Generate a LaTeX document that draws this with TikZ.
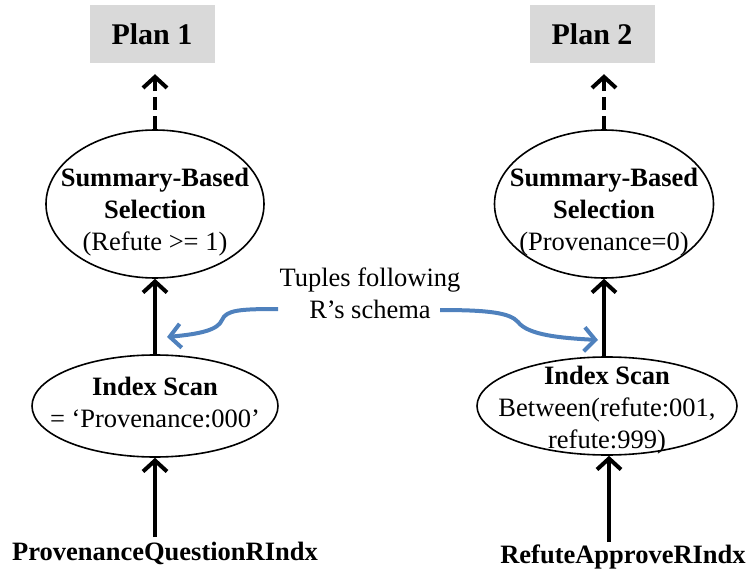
\documentclass[tikz,border=0pt]{standalone}
\usepackage{fontspec}
\setmainfont{Liberation Serif}
\usetikzlibrary{arrows.meta,shapes.geometric}
\definecolor{plangray}{HTML}{D9D9D9}
\definecolor{flowblue}{HTML}{4F81BD}
\begin{document}
\begin{tikzpicture}[x=1pt,y=-1pt,
  plan/.style={fill=plangray,minimum width=125pt,minimum height=58pt,inner sep=0pt,
    font=\fontsize{30}{34}\selectfont\bfseries},
  op/.style={draw,ellipse,line width=1.6pt,inner sep=0pt},
  optext/.style={align=center,inner sep=0pt,font=\fontsize{26.5}{32}\selectfont},
  leaf/.style={inner sep=0pt,font=\fontsize{26.5}{32}\selectfont\bfseries},
  flow/.style={line width=4pt,-{Straight Barb[length=11pt,width=24pt,line width=4pt]}},
  result/.style={flow,dash pattern=on 13pt off 6pt,shorten >=11pt},
  note/.style={flowblue,line width=4pt,-{Straight Barb[length=11pt,width=24pt,line width=4pt]}}]
\useasboundingbox (0,0) rectangle (750,575);

% plan headers
\node[plan] (p1) at (152,34) {Plan 1};
\node[plan] (p2) at (592,34) {Plan 2};

% plan 1 operators
\node[op,minimum width=218pt,minimum height=148pt] (s1) at (155,204) {};
\node[optext] (s1t) at (155,212) {\textbf{Summary-Based}\\\textbf{Selection}\\(Refute >= 1)};
\node[op,minimum width=246pt,minimum height=102pt] (i1) at (155,406) {};
\node[optext] (i1t) at (155,402) {\textbf{Index Scan}\\= ‘Provenance:000’};
\coordinate (b1) at (155,537);
\node[leaf] (l1) at (165,553) {ProvenanceQuestionRIndx};

% plan 2 operators
\node[op,minimum width=219pt,minimum height=148pt] (s2) at (604,204) {};
\node[optext] (s2t) at (604,212) {\textbf{Summary-Based}\\\textbf{Selection}\\(Provenance=0)};
\node[op,minimum width=260pt,minimum height=98pt] (i2) at (607,406) {};
\node[optext] (i2t) at (607,410) {\textbf{Index Scan}\\Between(refute:001,\\refute:999)};
\coordinate (b2) at (609,542);
\node[leaf] (l2) at (623,557) {RefuteApproveRIndx};

% data flow
\draw[result] (s1.north) -- (s1.north |- p1.south);
\draw[result] (s2.north) -- (s2.north |- p2.south);
\draw[flow] (i1.north) -- (s1.south);
\draw[flow] (i2.north -| s2.south) -- (s2.south);
\draw[flow] (b1) -- (b1 |- i1.south);
\draw[flow] (b2) -- (b2 |- i2.south);

% annotation
\node[optext,align=center] (note) at (370,293) {Tuples following\\R’s schema};
\coordinate (n1a) at (278,309);
\coordinate (n1b) at (167,337);
\coordinate (n2a) at (440,310);
\coordinate (n2b) at (598,340);
\draw[note] (n1a) .. controls (240,309) and (226,310) .. (222,320)
  .. controls (218,330) and (200,334) .. (n1b);
\draw[note] (n2a) .. controls (490,310) and (510,313) .. (518,322)
  .. controls (528,335) and (560,338) .. (n2b);
\end{tikzpicture}
\end{document}
